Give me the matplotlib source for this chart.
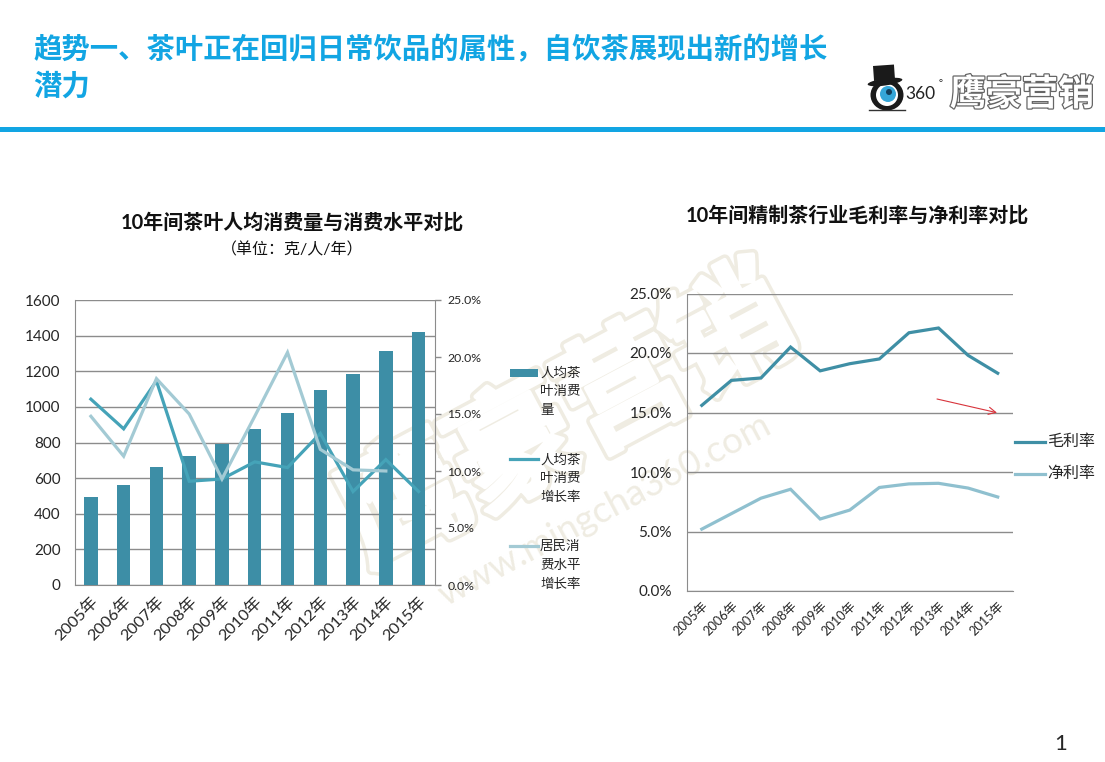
import matplotlib
matplotlib.use("Agg")
import matplotlib.pyplot as plt
import matplotlib.patheffects as pe
from matplotlib.patches import Circle, Rectangle, Ellipse

plt.rcParams['font.family'] = ['Lato', 'Noto Sans CJK SC', 'DejaVu Sans']

W, H = 1105, 762

years = ['2005年', '2006年', '2007年', '2008年', '2009年', '2010年', '2011年', '2012年', '2013年', '2014年', '2015年']

# left chart
tea_amount = [495, 560, 660, 725, 790, 875, 965, 1095, 1185, 1315, 1420]
tea_growth = [16.3, 13.7, 17.9, 9.1, 9.3, 10.8, 10.3, 13.3, 8.2, 11.0, 8.2]
spend_growth = [14.8, 11.3, 18.1, 15.0, 9.3, 14.8, 20.4, 11.9, 10.1, 10.0]
left_yticks = [0, 200, 400, 600, 800, 1000, 1200, 1400, 1600]
left_rticks = [0, 5, 10, 15, 20, 25]
left_names = ['人均茶\n叶消费\n量', '人均茶\n叶消费\n增长率', '居民消\n费水平\n增长率']

# right chart
gross_margin = [15.6, 17.7, 17.9, 20.5, 18.5, 19.1, 19.5, 21.7, 22.1, 19.8, 18.3]
net_margin = [5.2, 6.5, 7.8, 8.55, 6.05, 6.8, 8.7, 9.0, 9.05, 8.65, 7.9]
right_yticks = [0, 5, 10, 15, 20, 25]
right_names = ['毛利率', '净利率']

title_text = '趋势一、茶叶正在回归日常饮品的属性，自饮茶展现出新的增长\n潜力'
left_title = '10年间茶叶人均消费量与消费水平对比'
left_sub = '（单位：克/人/年）'
right_title = '10年间精制茶行业毛利率与净利率对比'

BAR = '#3d8ea6'
LINE1 = '#45a3b8'
LINE2 = '#a3cad4'
GROSS = '#3f8fa5'
NET = '#8fc0cf'
GRID = '#8c8c8c'
TXT = '#262626'
BLUE = '#12a5e3'
WM = '#efece2'


def pxAxes(fig, x0, y0, x1, y1, **kw):
    # axes from pixel box, y counted from the top
    return fig.add_axes([x0 / W, 1 - y1 / H, (x1 - x0) / W, (y1 - y0) / H], **kw)


fig = plt.figure(figsize=(W / 100, H / 100), dpi=100, facecolor='white')

# page layer in pixel coordinates
bg = fig.add_axes([0, 0, 1, 1], zorder=0)
bg.set_xlim(0, W)
bg.set_ylim(H, 0)
bg.axis('off')

# watermark under the charts, fat outlined characters
for ch, x, y in [('鹰', 405, 505), ('豪', 515, 450), ('营', 625, 392), ('销', 730, 335)]:
    t = bg.text(x, y, ch, fontsize=90, rotation=28, color='white', ha='center', va='center',
                fontweight='bold')
    t.set_path_effects([pe.Stroke(linewidth=8, foreground=WM), pe.Stroke(linewidth=3, foreground='white'),
                        pe.Normal()])
bg.text(605, 510, 'www.mingcha360.com', fontsize=26.5, rotation=28, color=WM, ha='center', va='center',
        rotation_mode='anchor')

# header
bg.text(33, 67.5, title_text, fontsize=20.4, fontweight='bold', color=BLUE, va='center', ha='left',
        linespacing=1.37)
bg.add_patch(Rectangle((0, 127), W, 5, color=BLUE, lw=0))
bg.text(1061, 744, '1', fontsize=16, color=TXT, ha='center', va='center')

# logo
bg.add_patch(Ellipse((887, 95), 33, 31, fc='#1a1a1a', lw=0))
bg.add_patch(Circle((887, 95), 11, fc='white', lw=0))
bg.add_patch(Circle((888, 94), 8, fc='#35a6d8', lw=0))
bg.add_patch(Circle((889, 92), 3, fc='#123f5c', lw=0))
bg.add_patch(Rectangle((873, 66), 21, 15, fc='#1a1a1a', lw=0, angle=-4))
bg.add_patch(Ellipse((885, 82), 35, 7, angle=-8, fc='#1a1a1a', lw=0))
bg.plot([869, 905], [110, 110], color='#333333', lw=1)
bg.text(905, 94, '360', fontsize=12.5, color='#222222', va='center', ha='left')
bg.text(941, 84, '°', fontsize=7, color='#222222', va='center', ha='center')
logo = bg.text(1022, 94, '鹰豪营销', fontsize=26, color='white', va='center', ha='center', fontweight='bold')
logo.set_path_effects([pe.Stroke(linewidth=1.8, foreground='#666666'), pe.Normal()])

# chart titles
bg.text(292, 223, left_title, fontsize=14.4, fontweight='bold', color='#111111', ha='center', va='center')
bg.text(292, 250, left_sub, fontsize=11.5, color='#111111', ha='center', va='center')
bg.text(857, 216, right_title, fontsize=14.4, fontweight='bold', color='#111111', ha='center', va='center')

# left chart
ax = pxAxes(fig, 74.5, 300, 435, 585, zorder=1)
ax.patch.set_visible(False)
xs = list(range(len(years)))
ax.bar(xs, tea_amount, width=0.41, color=BAR, zorder=3)
ax.set_xlim(-0.5, 10.5)
ax.set_ylim(0, 1600)
ax.set_yticks(left_yticks)
ax.set_xticks(xs)
ax.set_xticklabels(years, rotation=45, ha='right', rotation_mode='anchor')
ax.grid(axis='y', color=GRID, lw=1, zorder=1)
ax.tick_params(axis='y', length=0, labelsize=11, pad=10, labelcolor=TXT)
ax.tick_params(axis='x', length=0, labelsize=11.8, pad=7, labelcolor=TXT)
for s in ax.spines.values():
    s.set_color(GRID)
ax.spines['top'].set_visible(False)
ax.spines['right'].set_visible(False)

ax2 = ax.twinx()
ax2.patch.set_visible(False)
ax2.plot(xs, tea_growth, color=LINE1, lw=2.3, solid_joinstyle='miter')
ax2.plot(xs[:len(spend_growth)], spend_growth, color=LINE2, lw=2.3, solid_joinstyle='miter')
ax2.set_ylim(0, 25)
ax2.set_yticks(left_rticks)
ax2.set_yticklabels(['%.1f%%' % v for v in left_rticks])
ax2.tick_params(axis='y', length=4, width=1, color=GRID, labelsize=8.8, pad=5, labelcolor=TXT)
for s in ax2.spines.values():
    s.set_visible(False)
ax2.spines['right'].set_visible(True)
ax2.spines['right'].set_color(GRID)

# right chart
ar = pxAxes(fig, 687, 293.5, 1012.5, 591, zorder=1)
ar.patch.set_visible(False)
ar.plot(xs, gross_margin, color=GROSS, lw=2.3, solid_joinstyle='miter')
ar.plot(xs, net_margin, color=NET, lw=2.3, solid_joinstyle='miter')
ar.set_xlim(-0.5, 10.5)
ar.set_ylim(0, 25)
ar.set_yticks(right_yticks)
ar.set_yticklabels(['%.1f%%' % v for v in right_yticks])
ar.set_xticks(xs)
ar.set_xticklabels(years, rotation=45, ha='right', rotation_mode='anchor')
ar.grid(axis='y', color=GRID, lw=1)
ar.tick_params(axis='y', length=0, labelsize=11, pad=11, labelcolor=TXT)
ar.tick_params(axis='x', length=0, labelsize=9.2, pad=6, labelcolor=TXT)
for s in ar.spines.values():
    s.set_color(GRID)
ar.spines['top'].set_visible(False)
ar.spines['right'].set_visible(False)

# top layer for legends and the arrow
fg = fig.add_axes([0, 0, 1, 1], zorder=2)
fg.set_xlim(0, W)
fg.set_ylim(H, 0)
fg.axis('off')

fg.add_patch(Rectangle((509.5, 369), 28, 8, color=BAR, lw=0))
fg.plot([509.5, 537.5], [459, 459], color=LINE1, lw=2.3)
fg.plot([509.5, 537.5], [546, 546], color=LINE2, lw=2.3)
for name, y in zip(left_names, [372.5, 459, 546]):
    fg.text(540, y - 6, name, fontsize=9.7, color=TXT, ha='left', va='top', linespacing=1.65)

for name, col, y in zip(right_names, [GROSS, NET], [442, 474]):
    fg.plot([1015, 1045], [y, y], color=col, lw=2.3)
    fg.text(1047, y, name, fontsize=11.5, color=TXT, ha='left', va='center')

fg.annotate('', xy=(997, 412.7), xytext=(937, 399),
            arrowprops=dict(arrowstyle='->', color='#d8343c', lw=0.8, mutation_scale=13, shrinkA=0, shrinkB=0))

fig.savefig('out.png', dpi=100)
